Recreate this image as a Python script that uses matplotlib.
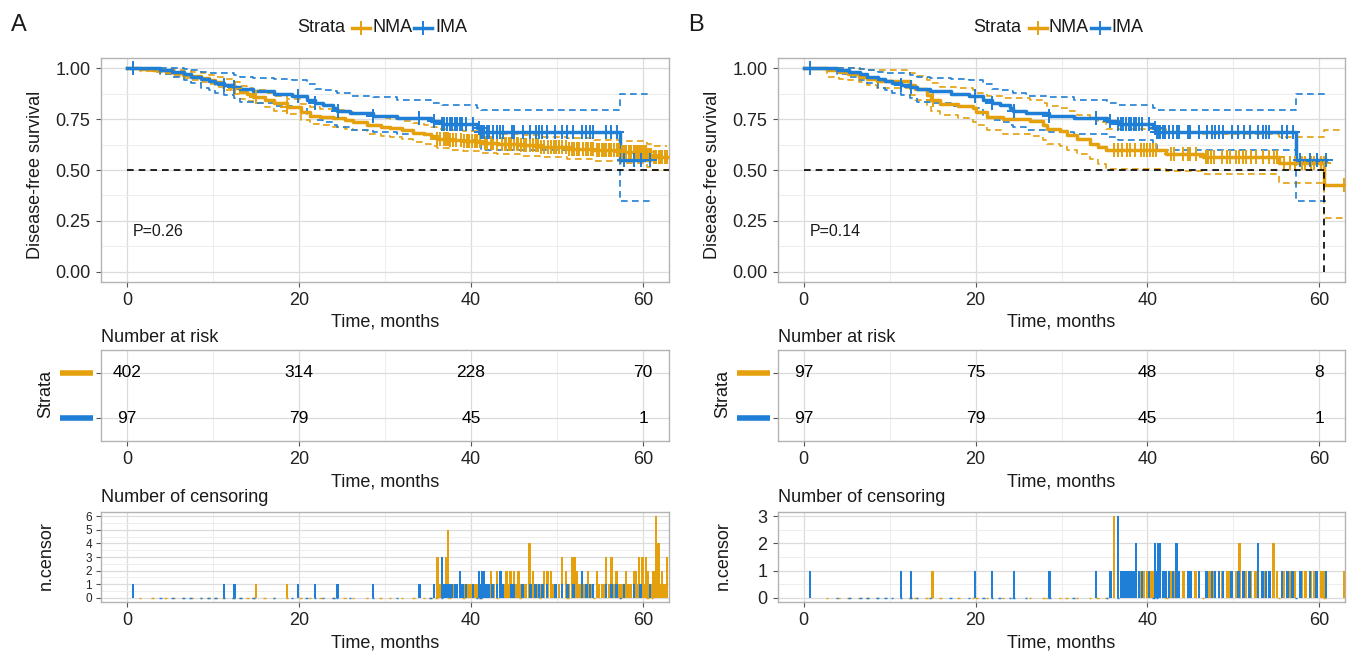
import numpy as np
import matplotlib
matplotlib.use("Agg")
import matplotlib.pyplot as plt
from matplotlib.lines import Line2D
from matplotlib.ticker import MultipleLocator, FormatStrFormatter
import matplotlib.transforms as mtransforms

plt.rcParams['font.family'] = ['Liberation Sans', 'DejaVu Sans']

NMA_COL = "#E5A00D"
IMA_COL = "#1F7FD6"

# ---------------- data ----------------
# IMA group (identical in both panels)
ima_t = [0, 3.9, 5.3, 6.6, 7.4, 8.6, 9.5, 10.3, 11.3, 12.4, 13.2, 14.7, 17.1, 19.2, 20.9,
         21.9, 22.8, 24.0, 24.4, 25.9, 28.6, 31.4, 35.3, 36.6, 40.7, 41.1, 57.3]
ima_s = [1.000, 0.990, 0.979, 0.969, 0.959, 0.948, 0.938, 0.928, 0.918, 0.907, 0.896, 0.886,
         0.875, 0.864, 0.846, 0.830, 0.818, 0.806, 0.792, 0.779, 0.766, 0.755, 0.741, 0.728,
         0.705, 0.689, 0.551]
ima_hi = [1.000, 1.000, 1.000, 0.997, 0.990, 0.982, 0.976, 0.975, 0.975, 0.968, 0.959, 0.950,
          0.947, 0.940, 0.921, 0.900, 0.895, 0.888, 0.877, 0.862, 0.857, 0.845, 0.830, 0.820,
          0.805, 0.794, 0.872]
ima_lo = [1.000, 0.970, 0.955, 0.940, 0.926, 0.905, 0.893, 0.880, 0.868, 0.855, 0.836, 0.827,
          0.815, 0.803, 0.762, 0.745, 0.735, 0.720, 0.710, 0.695, 0.688, 0.677, 0.663, 0.648,
          0.625, 0.597, 0.350]
ima_cens = [(0.7, 1), (11.3, 1), (12.5, 1), (19.9, 1), (21.9, 1), (24.5, 1), (28.6, 1), (34.0, 1),
            (35.7, 1), (36.6, 3), (36.9, 1), (37.2, 1), (37.5, 1), (37.8, 1), (38.1, 1), (38.4, 1),
            (38.7, 2), (39.0, 1), (39.4, 1), (40.2, 1), (40.9, 2), (41.1, 1), (41.3, 2), (41.5, 2),
            (41.8, 1), (42.1, 1), (42.5, 1), (43.0, 1), (43.4, 2), (43.7, 1), (44.7, 1), (45.0, 1),
            (46.0, 1), (46.9, 1), (47.5, 1), (47.9, 1), (48.3, 1), (48.8, 1), (49.8, 1), (50.6, 1),
            (51.2, 1), (51.9, 1), (52.9, 2), (53.4, 1), (53.8, 1), (54.2, 1), (55.7, 1), (56.3, 1),
            (56.9, 1), (57.8, 1), (58.9, 1), (59.7, 1), (60.8, 1)]

# Panel A, NMA group
nmaA_t = [0, 1.5, 3.0, 4.5, 5.5, 6.5, 7.5, 8.6, 9.5, 10.3, 11.2, 12.4, 13.2, 14.0, 14.7, 16.0,
          17.1, 18.6, 20.2, 21.3, 22.5, 24.0, 25.3, 26.3, 27.9, 29.5, 30.6, 32.0, 33.3, 34.5,
          35.3, 36.0, 37.5, 39.1, 41.1, 43.0, 45.7, 48.0, 51.2, 54.3, 57.4, 60.5, 61.0]
nmaA_s = [1.0, 0.995, 0.99, 0.982, 0.975, 0.968, 0.96, 0.954, 0.944, 0.934, 0.918, 0.901, 0.882,
          0.871, 0.86, 0.843, 0.827, 0.81, 0.786, 0.766, 0.76, 0.753, 0.745, 0.737, 0.72, 0.712,
          0.707, 0.697, 0.684, 0.675, 0.666, 0.654, 0.648, 0.641, 0.634, 0.629, 0.621, 0.613,
          0.605, 0.596, 0.588, 0.572, 0.563]
nmaA_hi = [1.0, 1.0, 0.998, 0.994, 0.99, 0.985, 0.98, 0.975, 0.967, 0.958, 0.945, 0.93, 0.913,
           0.903, 0.893, 0.878, 0.864, 0.848, 0.826, 0.807, 0.801, 0.795, 0.787, 0.78, 0.764,
           0.757, 0.752, 0.743, 0.731, 0.722, 0.713, 0.702, 0.697, 0.69, 0.683, 0.679, 0.671,
           0.664, 0.657, 0.649, 0.642, 0.627, 0.62]
nmaA_lo = [1.0, 0.988, 0.98, 0.969, 0.96, 0.951, 0.941, 0.933, 0.921, 0.91, 0.891, 0.872, 0.851,
           0.839, 0.827, 0.809, 0.792, 0.773, 0.747, 0.726, 0.719, 0.711, 0.703, 0.694, 0.677,
           0.668, 0.663, 0.652, 0.639, 0.629, 0.619, 0.607, 0.6, 0.593, 0.585, 0.579, 0.571,
           0.562, 0.553, 0.543, 0.533, 0.513, 0.502]
nmaA_cens = [(12.6, 1), (15.0, 1), (18.6, 1), (36.1, 3), (36.4, 1), (36.8, 1), (37.1, 3), (37.3, 5),
             (37.6, 1), (37.9, 1), (38.3, 1), (38.8, 1), (39.2, 1), (39.5, 1), (39.8, 1), (40.1, 1),
             (40.4, 1), (40.7, 1), (41.0, 1), (41.6, 1), (41.9, 1), (42.3, 2), (42.6, 1), (43.0, 2),
             (43.6, 1), (43.9, 1), (44.1, 2), (44.4, 1), (44.6, 2), (45.0, 2), (45.3, 1), (45.5, 2),
             (45.8, 1), (46.1, 1), (46.4, 1), (46.8, 4), (47.2, 2), (47.5, 1), (47.8, 1), (48.1, 1),
             (48.5, 2), (48.9, 2), (49.3, 2), (49.6, 1), (49.9, 1), (50.2, 1), (50.6, 3), (51.0, 2),
             (51.4, 1), (51.7, 3), (52.0, 3), (52.3, 2), (52.6, 1), (53.0, 1), (53.3, 1), (53.6, 2),
             (53.9, 1), (54.2, 1), (54.6, 2), (54.9, 1), (55.2, 1), (55.5, 1), (55.7, 3), (56.0, 1),
             (56.3, 3), (56.6, 1), (56.9, 2), (57.2, 1), (57.5, 1), (57.8, 1), (58.0, 2), (58.3, 1),
             (58.6, 1), (58.9, 2), (59.1, 2), (59.3, 1), (59.5, 3), (59.7, 1), (59.9, 3), (60.1, 1),
             (60.3, 3), (60.5, 2), (60.7, 1), (60.9, 1), (61.2, 2), (61.5, 6), (61.8, 4), (62.0, 1),
             (62.2, 2), (62.5, 1), (62.8, 3)]

# Panel B, NMA group
nmaB_t = [0, 2.7, 4.1, 5.2, 6.4, 7.4, 8.5, 12.4, 13.0, 14.3, 14.8, 15.9, 18.0, 19.7, 20.1, 21.3,
          23.2, 26.3, 27.9, 28.3, 29.8, 30.6, 31.8, 33.3, 34.2, 35.2, 42.2, 46.5, 55.3, 60.6]
nmaB_s = [1.0, 0.99, 0.979, 0.969, 0.959, 0.948, 0.938, 0.918, 0.897, 0.866, 0.845, 0.825, 0.814,
          0.804, 0.783, 0.762, 0.752, 0.741, 0.72, 0.70, 0.69, 0.67, 0.65, 0.63, 0.615, 0.597,
          0.58, 0.564, 0.532, 0.428]
nmaB_hi = [1.0, 1.0, 1.0, 1.0, 0.997, 0.99, 0.99, 0.975, 0.962, 0.94, 0.925, 0.91, 0.905, 0.895,
           0.88, 0.865, 0.855, 0.845, 0.83, 0.815, 0.805, 0.79, 0.77, 0.75, 0.735, 0.70, 0.684,
           0.679, 0.664, 0.696]
nmaB_lo = [1.0, 0.955, 0.948, 0.94, 0.93, 0.918, 0.905, 0.868, 0.845, 0.815, 0.79, 0.77, 0.755,
           0.735, 0.72, 0.696, 0.679, 0.665, 0.646, 0.63, 0.62, 0.60, 0.58, 0.555, 0.53, 0.507,
           0.493, 0.482, 0.437, 0.263]
nmaB_cens = [(15.0, 1), (36.1, 3), (36.6, 1), (37.0, 1), (37.6, 1), (38.0, 1), (38.6, 1), (39.2, 1),
             (39.6, 1), (40.0, 1), (40.3, 1), (40.6, 1), (41.0, 1), (42.8, 1), (43.1, 1), (44.2, 1),
             (44.7, 1), (45.0, 1), (45.6, 1), (46.8, 1), (47.1, 1), (47.4, 1), (47.8, 1), (48.7, 1),
             (49.3, 1), (49.6, 1), (50.3, 1), (50.7, 2), (51.1, 1), (51.5, 1), (52.0, 1), (52.6, 1),
             (53.5, 1), (54.2, 1), (54.7, 2), (55.1, 1), (55.9, 1), (56.6, 1), (57.2, 1), (58.0, 1),
             (58.4, 1), (59.0, 1), (59.4, 1), (60.2, 1), (60.5, 1), (62.9, 1)]

group_names = ["NMA", "IMA"]
risk_times = [0, 20, 40, 60]
riskA_nma = [402, 314, 228, 70]
riskA_ima = [97, 79, 45, 1]
riskB_nma = [97, 75, 48, 8]
riskB_ima = [97, 79, 45, 1]
pvalA = "P=0.26"
pvalB = "P=0.14"

# ---------------- drawing ----------------
W, H = 1352, 654
fig = plt.figure(figsize=(W / 100, H / 100), dpi=100)

FS = 13
TXT = "#1a1a1a"
XLIM = (-3, 63)


def fx(px):
    return px / W


def fy(py):
    return 1 - py / H


def add_ax(l, t, r, b):
    return fig.add_axes([l / W, 1 - b / H, (r - l) / W, (b - t) / H])


def base_style(ax):
    ax.set_xlim(*XLIM)
    ax.xaxis.set_major_locator(MultipleLocator(20))
    ax.xaxis.set_minor_locator(MultipleLocator(10))
    ax.grid(True, which='major', color='#dcdcdc', lw=0.9)
    ax.grid(True, which='minor', color='#ededed', lw=0.7)
    ax.set_axisbelow(True)
    for s in ax.spines.values():
        s.set_color('#b3b3b3')
        s.set_linewidth(1.0)
    ax.tick_params(which='major', length=3.5, width=0.8, color='#555555',
                   labelsize=FS, labelcolor='#222222')
    ax.tick_params(axis='x', pad=3.5)
    ax.tick_params(axis='y', pad=4)
    ax.tick_params(which='minor', length=0)


def step_ext(t, v, end):
    return np.append(np.asarray(t, float), end), np.append(np.asarray(v, float), v[-1])


def value_at(t, v, x):
    idx = np.searchsorted(np.asarray(t, float), np.asarray(x, float), side='right') - 1
    return np.asarray(v, float)[idx]


def panel(left, right, letter, groups, risk_rows, pval):
    cx = (left + right) / 2
    # ---- survival plot ----
    ax = add_ax(left, 58, right, 282)
    base_style(ax)
    ax.set_ylim(-0.05, 1.05)
    ax.yaxis.set_major_locator(MultipleLocator(0.25))
    ax.yaxis.set_minor_locator(MultipleLocator(0.125))
    ax.yaxis.set_major_formatter(FormatStrFormatter('%.2f'))
    for g in groups:
        ct = [c[0] for c in g['cens']]
        end = max(max(ct), g['t'][-1])
        for key in ('lo', 'hi'):
            te, ve = step_ext(g['t'], g[key], end)
            ax.step(te, ve, where='post', color=g['col'], lw=1.2, ls=(0, (4, 2.6)), zorder=3)
    for g in groups:
        ct = np.array([c[0] for c in g['cens']])
        end = max(ct.max(), g['t'][-1])
        te, se = step_ext(g['t'], g['s'], end)
        ax.step(te, se, where='post', color=g['col'], lw=2.5, zorder=4)
        ax.plot(ct, value_at(g['t'], g['s'], ct), ls='none', marker='+', ms=10, mew=1.4,
                color=g['col'], zorder=5)
    medians = []
    for g in groups:
        s = np.asarray(g['s'])
        hit = np.where(s <= 0.5)[0]
        if len(hit):
            medians.append(g['t'][hit[0]])
    hend = max(medians) if medians else XLIM[1]
    ax.plot([0, hend], [0.5, 0.5], color='black', lw=1.2, ls=(0, (4, 3)), zorder=6)
    for m in medians:
        ax.plot([m, m], [0, 0.5], color='black', lw=1.2, ls=(0, (4, 3)), zorder=6)
    ax.text(0.7, 0.2, pval, fontsize=11.5, color=TXT, ha='left', va='center')
    fig.text(fx(left - 65), fy(175), "Disease-free survival", rotation=90, fontsize=FS,
             color=TXT, ha='center', va='center')
    fig.text(fx(cx), fy(322), "Time, months", fontsize=FS, color=TXT, ha='center', va='center')

    # legend
    ly = fy(28)
    fig.text(fx(cx - 88), ly, "Strata", fontsize=FS, color=TXT, ha='left', va='center')
    for g, x0, xt in ((groups[0], cx - 33, cx - 13), (groups[1], cx + 29, cx + 50)):
        fig.add_artist(Line2D([fx(x0), fx(x0 + 18)], [ly, ly], color=g['col'], lw=2.5))
        fig.add_artist(Line2D([fx(x0 + 9)], [ly], marker='+', ms=10, mew=1.4, color=g['col']))
        fig.text(fx(xt), ly, g['name'], fontsize=FS, color=TXT, ha='left', va='center')
    fig.text(fx(left - 82), fy(25), letter, fontsize=17, color=TXT, ha='center', va='center')

    # ---- risk table ----
    axr = add_ax(left, 350, right, 441)
    base_style(axr)
    axr.set_ylim(0.5, 2.5)
    axr.set_yticks([1, 2])
    axr.set_yticklabels([])
    axr.yaxis.set_minor_locator(MultipleLocator(10))
    trans = mtransforms.blended_transform_factory(axr.transAxes, axr.transData)
    for row, (g, counts) in zip((2, 1), zip(groups, risk_rows)):
        for tt, n in zip(risk_times, counts):
            axr.text(tt, row, str(n), fontsize=12.5, color='black', ha='center', va='center')
        axr.add_line(Line2D([-0.072, -0.014], [row, row], transform=trans, color=g['col'],
                            lw=4, solid_capstyle='butt', clip_on=False))
    fig.text(fx(left), fy(337), "Number at risk", fontsize=FS, color=TXT, ha='left', va='center')
    fig.text(fx(left - 55), fy(394), "Strata", rotation=90, fontsize=FS, color=TXT,
             ha='center', va='center')
    fig.text(fx(cx), fy(482), "Time, months", fontsize=FS, color=TXT, ha='center', va='center')

    # ---- censoring plot ----
    axc = add_ax(left, 512, right, 602)
    base_style(axc)
    ymax = max(max(c[1] for c in g['cens']) for g in groups)
    axc.set_ylim(-0.05 * ymax, 1.05 * ymax)
    axc.yaxis.set_major_locator(MultipleLocator(1))
    axc.yaxis.set_minor_locator(MultipleLocator(0.5))
    if ymax > 3:
        # crowded axis: smaller labels so they do not collide
        axc.tick_params(axis='y', labelsize=8.5, pad=3)
    for g in groups:
        ct = [c[0] for c in g['cens']]
        cn = [c[1] for c in g['cens']]
        axc.bar(g['t'][1:], np.zeros(len(g['t']) - 1), width=0.28, bottom=0,
                edgecolor=g['col'], lw=1.0, zorder=3)
        axc.bar(ct, cn, width=0.28, color=g['col'], lw=0, zorder=3)
    fig.text(fx(left), fy(497), "Number of censoring", fontsize=FS, color=TXT,
             ha='left', va='center')
    fig.text(fx(left - 55), fy(556), "n.censor", rotation=90, fontsize=FS, color=TXT,
             ha='center', va='center')
    fig.text(fx(cx), fy(643), "Time, months", fontsize=FS, color=TXT, ha='center', va='center')


ima = dict(name="IMA", col=IMA_COL, t=ima_t, s=ima_s, lo=ima_lo, hi=ima_hi, cens=ima_cens)
nmaA = dict(name="NMA", col=NMA_COL, t=nmaA_t, s=nmaA_s, lo=nmaA_lo, hi=nmaA_hi, cens=nmaA_cens)
nmaB = dict(name="NMA", col=NMA_COL, t=nmaB_t, s=nmaB_s, lo=nmaB_lo, hi=nmaB_hi, cens=nmaB_cens)

panel(101, 669, "A", [nmaA, ima], [riskA_nma, riskA_ima], pvalA)
panel(778, 1345, "B", [nmaB, ima], [riskB_nma, riskB_ima], pvalB)

fig.savefig("out.png", dpi=100)
